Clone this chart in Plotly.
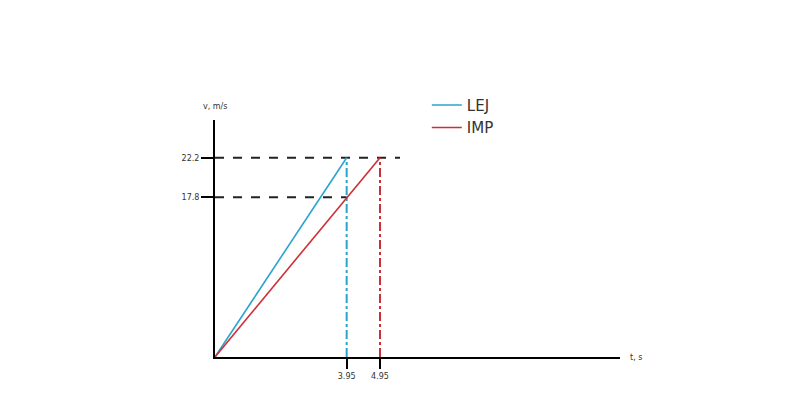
import plotly.graph_objects as go

# Data
series_names = ["LEJ", "IMP"]
series_colors = ["#2ba3cf", "#cc2f36"]
t_end = [3.95, 4.95]          # time to reach top speed, s
v_top = [22.2, 22.2]          # top speed, m/s
v_mark = 17.8                 # IMP speed at t = 3.95 s
x_ticks = [3.95, 4.95]
x_ticklabels = ["3.95", "4.95"]
y_ticks = [17.8, 22.2]
y_ticklabels = ["17.8", "22.2"]

fig = go.Figure()

# guide lines (dashed)
fig.add_trace(go.Scatter(x=[0, 5.55], y=[v_top[0], v_top[0]], mode="lines",
                         line=dict(color="#222222", width=2, dash="dash"),
                         showlegend=False, hoverinfo="skip"))
fig.add_trace(go.Scatter(x=[0, t_end[0]], y=[v_mark, v_mark], mode="lines",
                         line=dict(color="#222222", width=2, dash="dash"),
                         showlegend=False, hoverinfo="skip"))
for name, col, te, vt in zip(series_names, series_colors, t_end, v_top):
    fig.add_trace(go.Scatter(x=[te, te], y=[0, vt], mode="lines",
                             line=dict(color=col, width=2, dash="dashdot"),
                             showlegend=False, hoverinfo="skip"))

# main lines
for name, col, te, vt in zip(series_names, series_colors, t_end, v_top):
    fig.add_trace(go.Scatter(x=[0, te], y=[0, vt], mode="lines", name=name,
                             line=dict(color=col, width=1.6)))

fig.update_layout(
    width=784, height=398,
    margin=dict(l=207, r=172, t=112, b=49),
    paper_bgcolor="white", plot_bgcolor="white",
    font=dict(family="DejaVu Sans", size=8, color="#333333"),
    showlegend=True,
    legend=dict(x=0.523, y=1.132, xanchor="left", yanchor="top",
                font=dict(family="DejaVu Sans", size=15),
                itemwidth=30, tracegroupgap=0, bgcolor="rgba(0,0,0,0)"),
    xaxis=dict(range=[0, 12.15], showgrid=False, zeroline=False,
               showline=True, linecolor="black", linewidth=2,
               ticks="outside", ticklen=10, tickwidth=2, tickcolor="black",
               tickvals=x_ticks, ticktext=x_ticklabels),
    yaxis=dict(range=[0, 26.4], showgrid=False, zeroline=False,
               showline=True, linecolor="black", linewidth=2,
               ticks="outside", ticklen=12, tickwidth=2, tickcolor="black",
               tickvals=y_ticks, ticktext=y_ticklabels),
    annotations=[
        dict(text="v, m/s", xref="x", x=0, yref="paper", y=1, yshift=20,
             showarrow=False, font=dict(size=8, color="#333333")),
        dict(text="t, s", xref="paper", x=1.02, yref="y", y=0,
             xanchor="left", showarrow=False, font=dict(size=8, color="#333333")),
    ],
)

fig.write_html("out.html")
